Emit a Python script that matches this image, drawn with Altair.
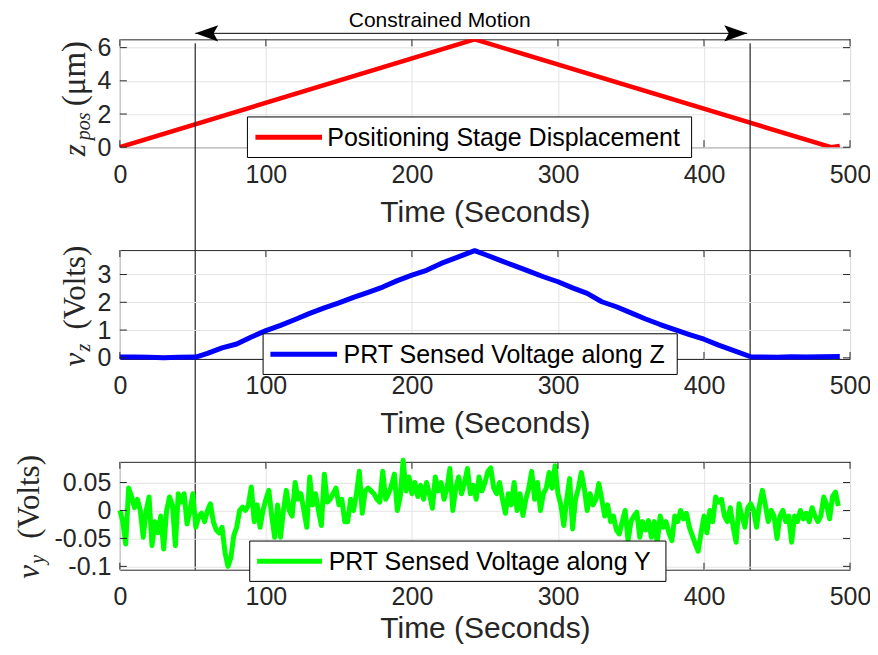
import altair as alt
import pandas as pd

# ---------------- data ----------------
x_ticks = [0, 100, 200, 300, 400, 500]

# panel 1: positioning stage displacement (um)
time_stage = [0, 243, 487, 493]
z_pos = [0.0, 6.5, 0.0, 0.08]
z_ticks = [0, 2, 4, 6]

# panel 2: PRT sensed voltage along Z
time_vz = [0, 10, 20, 30, 40, 52, 60, 70, 80, 90, 100, 110, 120, 130, 140, 150,
           160, 170, 180, 190, 200, 210, 220, 230, 243, 250, 260, 270, 280, 290,
           300, 310, 320, 330, 340, 350, 360, 370, 380, 390, 400, 410, 420, 432,
           440, 450, 460, 470, 480, 493]
v_z = [0.03, 0.03, 0.02, 0.0, 0.02, 0.03, 0.16, 0.36, 0.5, 0.75, 0.98, 1.17,
       1.38, 1.6, 1.8, 1.98, 2.18, 2.36, 2.55, 2.78, 2.98, 3.15, 3.4, 3.6, 3.86,
       3.72, 3.52, 3.32, 3.12, 2.92, 2.74, 2.52, 2.32, 2.02, 1.84, 1.62, 1.4,
       1.2, 1.02, 0.84, 0.67, 0.46, 0.27, 0.04, 0.03, 0.02, 0.04, 0.03, 0.04, 0.05]
vz_ticks = [0, 1, 2, 3]

# panel 3: PRT sensed voltage along Y (sampled every 2 s)
time_vy = list(range(0, 494, 2))
v_y = [
    0.0, -0.02, -0.06, 0.04, 0.025, 0.005, 0.02, 0.0, -0.048, 0.0,
    0.024, -0.063, -0.02, -0.04, -0.01, -0.069, 0.0, 0.024, 0.01, -0.063,
    0.03, 0.015, 0.03, -0.024, 0.0, 0.03, -0.03, -0.01, -0.005, -0.02,
    0.0, 0.012, -0.02, -0.035, -0.04, -0.03, -0.075, -0.1, -0.085, -0.045,
    -0.03, 0.0, 0.006, 0.0, 0.01, 0.042, -0.02, 0.01, -0.03, 0.0,
    0.02, 0.036, -0.01, -0.048, 0.01, -0.048, 0.0, 0.036, 0.0, -0.01,
    0.05, 0.02, 0.03, 0.0, -0.03, 0.06, 0.01, 0.03, 0.0, -0.027,
    0.065, 0.015, 0.02, 0.03, 0.04, 0.01, 0.02, -0.02, -0.02, 0.02,
    0.0, 0.03, 0.07, -0.005, 0.035, 0.04, 0.035, 0.03, 0.02, 0.015,
    0.07, 0.02, 0.03, 0.045, 0.065, 0.0, 0.025, 0.09, 0.035, 0.06,
    0.03, 0.05, 0.025, 0.045, 0.02, 0.05, 0.03, 0.004, 0.06, 0.035,
    0.05, 0.02, 0.04, 0.075, 0.0, 0.04, 0.06, 0.03, 0.05, 0.075,
    0.03, 0.045, 0.02, 0.06, 0.035, 0.05, 0.07, 0.076, 0.04, 0.03,
    0.05, 0.02, -0.005, 0.03, 0.01, 0.05, 0.0, 0.03, -0.009, 0.02,
    0.04, 0.07, 0.02, 0.05, 0.0, 0.03, 0.04, 0.068, 0.04, 0.08,
    0.03, 0.01, -0.027, 0.02, 0.057, -0.033, 0.02, 0.04, 0.068, 0.04,
    0.0, 0.03, 0.01, 0.02, 0.048, 0.02, -0.01, 0.01, -0.02, -0.01,
    -0.035, -0.042, -0.02, 0.0, -0.054, -0.02, -0.01, -0.003, -0.048, -0.02,
    -0.035, -0.018, -0.048, -0.02, -0.057, -0.01, -0.03, -0.02, -0.04, -0.054,
    -0.01, -0.02, 0.0, -0.015, -0.005, -0.03, -0.045, -0.06, -0.073, -0.04,
    -0.01, -0.04, 0.0, -0.02, 0.024, 0.015, 0.02, -0.01, -0.02, 0.005,
    -0.03, -0.057, 0.012, -0.01, -0.03, 0.005, 0.012, 0.0, -0.03, 0.01,
    0.036, 0.01, -0.02, 0.0, -0.01, -0.05, -0.01, 0.0, -0.02, -0.01,
    -0.057, -0.01, -0.02, 0.0, -0.015, -0.005, -0.02, 0.005, -0.01, -0.02,
    -0.01, 0.024, 0.01, -0.015, 0.025, 0.033, 0.008,
]
vy_ticks = [-0.1, -0.05, 0, 0.05]

# constrained-motion boundaries (seconds)
bound_times = [51.6, 431.6]
arrow_start, arrow_end = 51.6, 429.6
annot_time = 219
annot_text = "Constrained Motion"

labels = ["Positioning Stage Displacement",
          "PRT Sensed Voltage along Z",
          "PRT Sensed Voltage along Y"]

# ---------------- styling ----------------
W = 731
H1, H2, H3 = 108, 109, 108
GAP = 103
FONT = "Liberation Sans"
SERIF = "Liberation Serif"
INK = "#262626"
TICK = 7


def panel(df, color, ydom, yticks, H, label, leg, ytitle, lw=4.5, clip=False,
          extra=None, label_pad=15, title_pad=10):
    xs = alt.Scale(domain=[0, 500], nice=False, zero=False)
    ys = alt.Scale(domain=ydom, nice=False, zero=False)
    xa = alt.Axis(values=x_ticks, title="Time (Seconds)", labelFlush=False,
                  labelPadding=label_pad, titlePadding=title_pad, grid=True,
                  labelOverlap=False)
    ya = alt.Axis(values=yticks, title=None, labelPadding=9, grid=True,
                  labelOverlap=False, labelFlush=False,
                  labelExpr="(datum.value < 0 ? '-' : '') + format(abs(datum.value), '~g')")
    X = alt.X("t:Q", scale=xs, axis=xa)
    Y = alt.Y("v:Q", scale=ys, axis=ya)

    line = alt.Chart(df).mark_line(color=color, strokeWidth=lw, clip=clip,
                                   strokeJoin="round").encode(x=X, y=Y)

    tx = pd.DataFrame({"t": x_ticks})
    ty = pd.DataFrame({"v": yticks})
    rule = dict(color=INK, strokeWidth=1)
    tb = alt.Chart(tx).mark_rule(**rule).encode(x=X, y=alt.value(H - TICK), y2=alt.value(H))
    tt = alt.Chart(tx).mark_rule(**rule).encode(x=X, y=alt.value(0), y2=alt.value(TICK))
    tl = alt.Chart(ty).mark_rule(**rule).encode(y=Y, x=alt.value(0), x2=alt.value(TICK))
    tr = alt.Chart(ty).mark_rule(**rule).encode(y=Y, x=alt.value(W - TICK), x2=alt.value(W))

    bx0, bx1, by0, by1, sx0, sx1, sy, tx0 = leg
    ld = pd.DataFrame({"label": [label]})
    box = alt.Chart(ld).mark_rect(fill="white", stroke="black", strokeWidth=1).encode(
        x=alt.value(bx0), x2=alt.value(bx1), y=alt.value(by0), y2=alt.value(by1))
    samp = alt.Chart(ld).mark_rule(color=color, strokeWidth=5).encode(
        x=alt.value(sx0), x2=alt.value(sx1), y=alt.value(sy))
    ltxt = alt.Chart(ld).mark_text(align="left", baseline="middle", font=FONT,
                                   fontSize=25, color="black").encode(
        x=alt.value(tx0), y=alt.value(sy + 1), text="label:N")

    titles = []
    for txt, xx, yy, size, style in ytitle:
        td = pd.DataFrame({"s": [txt]})
        titles.append(alt.Chart(td).mark_text(
            angle=270, align="left", baseline="alphabetic", font=SERIF,
            fontSize=size, fontStyle=style, color=INK).encode(
            x=alt.value(xx), y=alt.value(yy), text="s:N"))

    layers = [line, tb, tt, tl, tr]
    if extra is not None:
        layers += extra(X, Y)
    layers += [box, samp, ltxt] + titles
    return alt.layer(*layers).properties(width=W, height=H)


def top_extra(X, Y):
    bd = pd.DataFrame({"t": bound_times})
    vlines = alt.Chart(bd).mark_rule(color=INK, strokeWidth=1.2).encode(
        x=X, y=alt.value(4), y2=alt.value(H1 + GAP + H2 + GAP + H3))
    ad = pd.DataFrame({"t": [arrow_start], "t2": [arrow_end]})
    shaft = alt.Chart(ad).mark_rule(color="black", strokeWidth=1).encode(
        x=X, x2="t2:Q", y=alt.value(-6))
    left_head = alt.Chart(pd.DataFrame({"t": [arrow_start]})).mark_point(
        shape="M 0 0 L 2 -0.7 L 1.6 0 L 2 0.7 Z", filled=True, size=529,
        color="black", opacity=1).encode(x=X, y=alt.value(-6))
    right_head = alt.Chart(pd.DataFrame({"t": [arrow_end]})).mark_point(
        shape="M 0 0 L -2 -0.7 L -1.6 0 L -2 0.7 Z", filled=True, size=529,
        color="black", opacity=1).encode(x=X, y=alt.value(-6))
    td = pd.DataFrame({"t": [annot_time], "label": [annot_text]})
    note = alt.Chart(td).mark_text(font=FONT, fontSize=21, color="black",
                                   align="center", baseline="alphabetic").encode(
        x=X, y=alt.value(-12), text="label:N")
    return [vlines, shaft, left_head, right_head, note]


df1 = pd.DataFrame({"t": time_stage, "v": z_pos})
df2 = pd.DataFrame({"t": time_vz, "v": v_z})
df3 = pd.DataFrame({"t": time_vy, "v": v_y})

p1 = panel(df1, "#ff0000", [0, 6.5], z_ticks, H1, labels[0],
           (127.7, 572.4, 77.7, 118.3, 135.7, 202.4, 98, 207.7),
           [("z", -35, 117, 31, "italic"), ("pos", -30, 101, 20, "italic"),
            ("(μm)", -35, 67, 33, "normal")],
           clip=True, extra=top_extra)
p2 = panel(df2, "#0000ff", [-0.04, 3.88], vz_ticks, H2, labels[1],
           (143.4, 558.0, 83.8, 124.5, 150.7, 217.4, 104.2, 224.0),
           [("v", -35, 116.5, 31, "italic"), ("z", -30, 101.5, 20, "italic"),
            ("(Volts)", -35, 79.5, 31, "normal")], lw=5)
p3 = panel(df3, "#00ff00", [-0.106, 0.087], vy_ticks, H3, labels[2],
           (130.0, 546.7, 79.3, 119.7, 137.4, 202.4, 99.5, 209.0),
           [("v", -81, 117, 31, "italic"), ("y", -76, 102, 20, "italic"),
            ("(Volts)", -81, 77, 31, "normal")], lw=5, title_pad=4)

chart = alt.vconcat(p1, p2, p3, spacing=GAP, bounds="flush").resolve_scale(
    x="independent", y="independent"
).configure_view(
    stroke=INK, strokeWidth=1
).configure_axis(
    labelFont=FONT, titleFont=FONT, labelColor=INK, titleColor=INK,
    labelFontSize=25, titleFontSize=30, titleFontWeight="normal",
    gridColor="#e3e3e3", gridWidth=1, domain=False, ticks=False, tickSize=0
).properties(
    padding={"left": 5, "top": 1, "right": -2, "bottom": 0},
    background="white"
)

chart.save("out.html", embed_options={"renderer": "svg", "actions": False})
